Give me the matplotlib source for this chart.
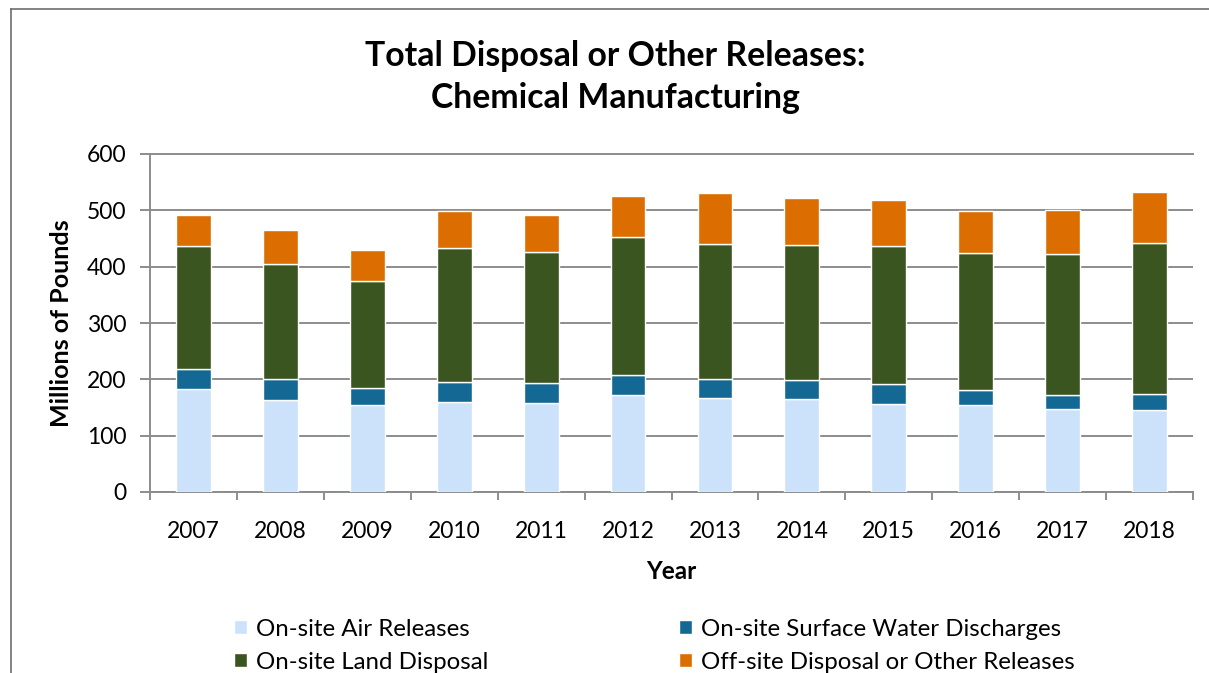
import numpy as np
import matplotlib
matplotlib.use('Agg')
import matplotlib.pyplot as plt
from matplotlib.lines import Line2D

plt.rcParams['font.family'] = ['Lato', 'DejaVu Sans']

# Millions of pounds
years = ['2007', '2008', '2009', '2010', '2011', '2012',
         '2013', '2014', '2015', '2016', '2017', '2018']
air = [182, 164, 155, 159, 158, 173, 166, 165, 157, 154, 148, 146]
water = [37, 37, 30, 37, 36, 34, 34, 33, 34, 27, 24, 28]
land = [218, 204, 190, 238, 232, 246, 240, 241, 245, 244, 250, 268]
offsite = [55, 60, 54, 65, 66, 72, 90, 83, 82, 74, 78, 91]

series = [
    ('On-site Air Releases', air, '#cce2fa'),
    ('On-site Surface Water Discharges', water, '#146894'),
    ('On-site Land Disposal', land, '#3b5520'),
    ('Off-site Disposal or Other Releases', offsite, '#dc6d00'),
]

W, H = 1209, 673
fig = plt.figure(figsize=(W / 100, H / 100), dpi=100)
ax = fig.add_axes([150 / W, 1 - 492 / H, (1193 - 150) / W, (492 - 154) / H])

x = np.arange(len(years))
bottom = np.zeros(len(years))
handles = {}
for name, vals, color in series:
    vals = np.array(vals, dtype=float)
    b = ax.bar(x, vals, 0.4, bottom=bottom, color=color, edgecolor='white',
               linewidth=1.0, zorder=3, label=name)
    handles[name] = b
    bottom += vals

grey = '#8c8c8c'
ax.set_ylim(0, 600)
ax.set_xlim(-0.5, len(years) - 0.5)
ax.set_yticks(range(0, 601, 100))
ax.yaxis.grid(True, color=grey, linewidth=1.4, zorder=0)
ax.set_axisbelow(True)

ax.set_xticks(x)
ax.set_xticklabels(years)
ax.set_xticks(np.arange(-0.5, len(years), 1), minor=True)
ax.tick_params(axis='x', which='major', length=0, labelsize=16.5, pad=21)
ax.tick_params(axis='x', which='minor', length=6, width=1.4, color=grey)
ax.tick_params(axis='y', length=7, width=1.4, color=grey, labelsize=16.5, pad=10)

for side in ['left', 'bottom', 'top']:
    ax.spines[side].set_color(grey)
    ax.spines[side].set_linewidth(1.4)
ax.spines['right'].set_visible(False)

ax.set_ylabel('Millions of Pounds', fontsize=18, fontweight='bold', labelpad=10)
ax.set_xlabel('Year', fontsize=17.5, fontweight='bold', labelpad=13)

fig.text(615 / W, 1 - 77 / H, 'Total Disposal or Other Releases:\nChemical Manufacturing',
         ha='center', va='center', fontsize=24.3, fontweight='bold', linespacing=1.4)

order = ['On-site Air Releases', 'On-site Land Disposal',
         'On-site Surface Water Discharges', 'Off-site Disposal or Other Releases']
fig.legend([handles[n] for n in order], order, ncol=2, loc='upper left',
           bbox_to_anchor=(212 / W, 1 - 597 / H), frameon=False, fontsize=17.3,
           handlelength=0.55, handleheight=0.55, handletextpad=0.4,
           columnspacing=7.9, labelspacing=0.5)

# thin outer frame of the chart area
fig.add_artist(Line2D([11 / W, 11 / W], [0, 1 - 9 / H], color='#6e6e6e', linewidth=1.2))
fig.add_artist(Line2D([11 / W, 1], [1 - 9 / H, 1 - 9 / H], color='#6e6e6e', linewidth=1.2))

fig.savefig('out.png', dpi=100)
